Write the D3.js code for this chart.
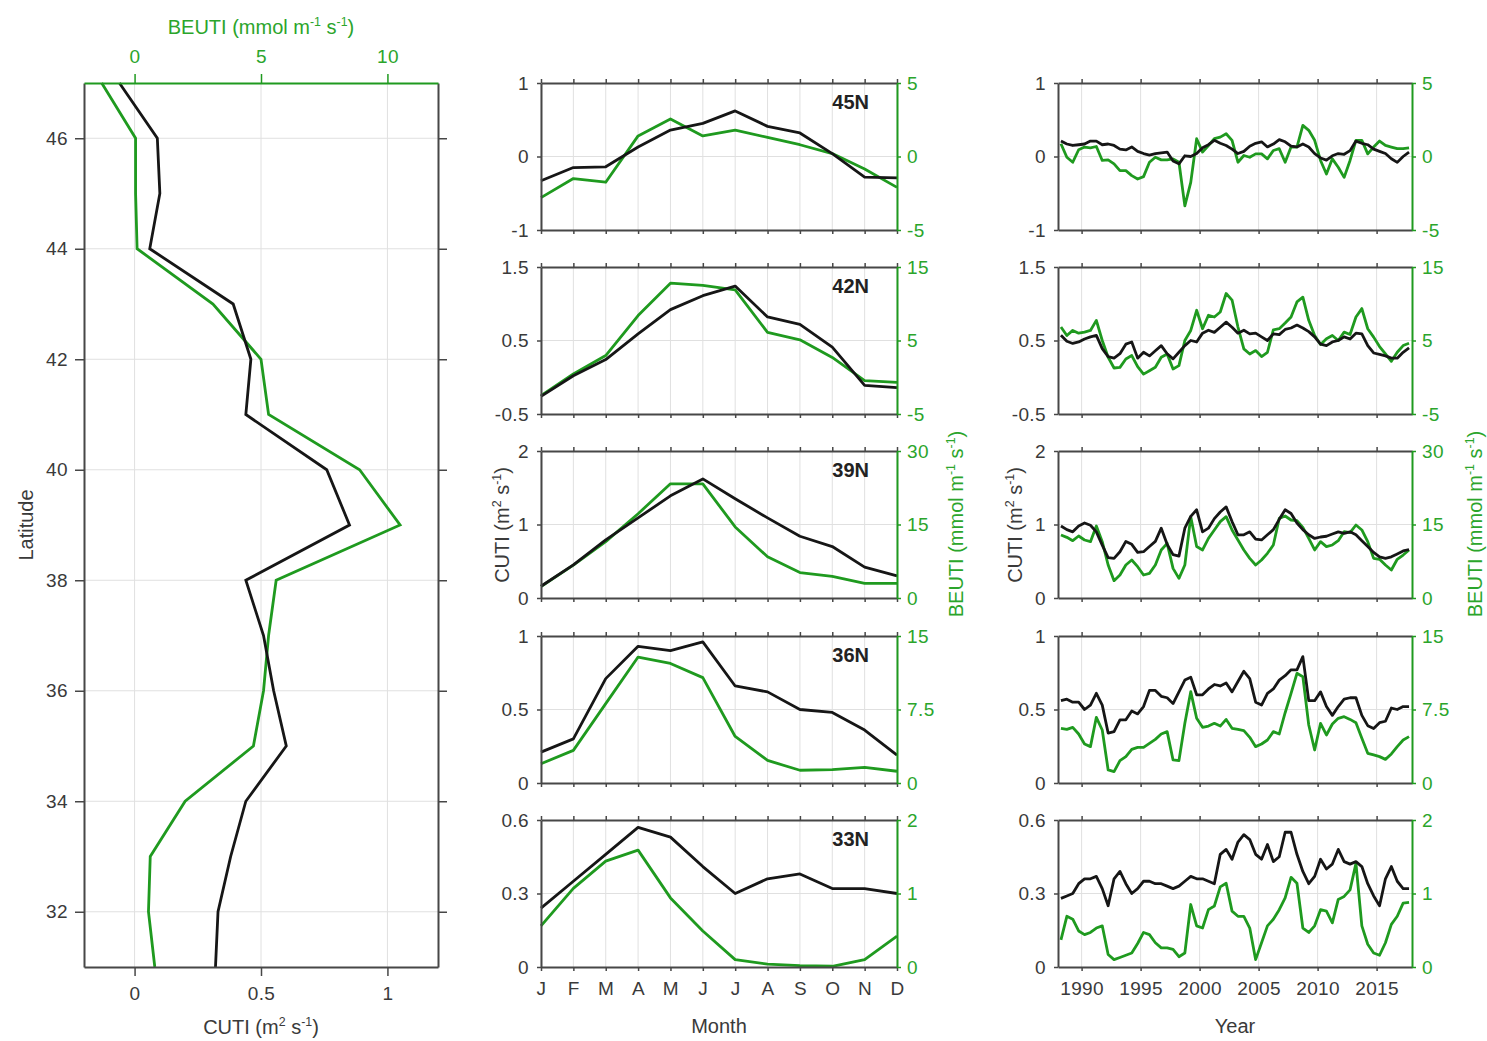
<!DOCTYPE html>
<html>
<head>
<meta charset="utf-8">
<script src="https://cdn.jsdelivr.net/npm/d3@7"></script>
<style>
  body { margin: 0; background: #fff; }
</style>
</head>
<body>
<svg id="chart" width="1487" height="1041"></svg>
<script>
// ---- data ----
const latitudes = [31, 32, 33, 34, 35, 36, 37, 38, 39, 40, 41, 42, 43, 44, 45, 46, 47];
const latCUTI  = [0.32, 0.33, 0.38, 0.44, 0.60, 0.55, 0.51, 0.44, 0.85, 0.76, 0.44, 0.46, 0.39, 0.06, 0.10, 0.09, -0.06];
const latBEUTI = [0.8, 0.55, 0.62, 2.0, 4.7, 5.1, 5.3, 5.6, 10.5, 8.9, 5.3, 5.0, 3.1, 0.1, 0.04, 0.04, -1.3];
const latTicks = [32, 34, 36, 38, 40, 42, 44, 46];
const cutiTicks = [0, 0.5, 1];
const beutiTicks = [0, 5, 10];

const months = ["J", "F", "M", "A", "M", "J", "J", "A", "S", "O", "N", "D"];
const monthNum = [1, 2, 3, 4, 5, 6, 7, 8, 9, 10, 11, 12];

const clim45C = [-0.33, -0.15, -0.14, 0.13, 0.36, 0.45, 0.62, 0.41, 0.32, 0.04, -0.28, -0.29];
const clim45B = [-2.8, -1.5, -1.75, 1.4, 2.55, 1.4, 1.8, 1.3, 0.8, 0.2, -0.85, -2.1];
const clim42C = [-0.26, 0.02, 0.24, 0.59, 0.92, 1.11, 1.24, 0.82, 0.72, 0.41, -0.11, -0.14];
const clim42B = [-2.5, 0.45, 2.95, 8.4, 12.8, 12.5, 11.9, 6.1, 5.1, 2.7, -0.45, -0.7];
const clim39C = [0.16, 0.45, 0.79, 1.09, 1.39, 1.62, 1.35, 1.09, 0.84, 0.70, 0.42, 0.30];
const clim39B = [2.35, 6.7, 11.5, 17.2, 23.3, 23.3, 14.5, 8.4, 5.2, 4.4, 3.0, 3.0];
const clim36C = [0.21, 0.30, 0.71, 0.93, 0.90, 0.96, 0.66, 0.62, 0.50, 0.48, 0.36, 0.19];
const clim36B = [1.97, 3.33, 8.1, 12.85, 12.2, 10.75, 4.75, 2.3, 1.3, 1.36, 1.6, 1.2];
const clim33C = [0.24, 0.35, 0.46, 0.57, 0.53, 0.41, 0.30, 0.36, 0.38, 0.32, 0.32, 0.30];
const clim33B = [0.56, 1.07, 1.44, 1.59, 0.94, 0.49, 0.10, 0.04, 0.02, 0.01, 0.10, 0.42];

const years = [1988.25, 1988.75, 1989.25, 1989.75, 1990.25, 1990.75, 1991.25, 1991.75, 1992.25, 1992.75,
  1993.25, 1993.75, 1994.25, 1994.75, 1995.25, 1995.75, 1996.25, 1996.75, 1997.25, 1997.75,
  1998.25, 1998.75, 1999.25, 1999.75, 2000.25, 2000.75, 2001.25, 2001.75, 2002.25, 2002.75,
  2003.25, 2003.75, 2004.25, 2004.75, 2005.25, 2005.75, 2006.25, 2006.75, 2007.25, 2007.75,
  2008.25, 2008.75, 2009.25, 2009.75, 2010.25, 2010.75, 2011.25, 2011.75, 2012.25, 2012.75,
  2013.25, 2013.75, 2014.25, 2014.75, 2015.25, 2015.75, 2016.25, 2016.75, 2017.25, 2017.75];
const yearTicks = [1990, 1995, 2000, 2005, 2010, 2015];

const ts45C = [0.21,0.17,0.15,0.16,0.17,0.21,0.21,0.16,0.17,0.15,0.10,0.09,0.13,0.07,0.04,0.02,0.04,0.05,0.06,-0.06,
  -0.10,0.01,0.00,0.04,0.12,0.16,0.22,0.18,0.15,0.10,0.04,0.07,0.14,0.18,0.20,0.13,0.17,0.23,0.20,0.14,
  0.13,0.17,0.13,0.04,-0.02,-0.05,0.01,0.04,0.03,0.08,0.21,0.18,0.16,0.10,0.07,0.04,-0.03,-0.08,0.00,0.06];
const ts45B = [0.87,-0.05,-0.39,0.46,0.64,0.59,0.68,-0.27,-0.23,-0.50,-0.96,-0.96,-1.30,-1.53,-1.37,-0.39,-0.05,-0.23,-0.23,-0.16,
  -0.39,-3.36,-1.76,1.21,0.30,0.75,1.21,1.32,1.55,1.10,-0.39,0.07,-0.05,0.18,0.18,-0.16,0.41,0.53,-0.39,0.64,
  0.64,2.12,1.78,1.10,-0.27,-1.19,-0.16,-0.73,-1.42,-0.27,1.10,1.10,0.18,0.64,1.05,0.75,0.64,0.53,0.53,0.59];
const ts42C = [0.57,0.49,0.46,0.48,0.52,0.55,0.57,0.39,0.28,0.26,0.32,0.45,0.48,0.26,0.34,0.29,0.36,0.43,0.32,0.25,
  0.34,0.43,0.50,0.48,0.60,0.64,0.61,0.68,0.75,0.68,0.60,0.64,0.59,0.60,0.55,0.50,0.59,0.58,0.65,0.67,
  0.71,0.67,0.62,0.55,0.45,0.43,0.48,0.50,0.55,0.52,0.60,0.59,0.43,0.33,0.31,0.29,0.26,0.26,0.34,0.40];
const ts42B = [6.83,5.68,6.37,6.0,6.14,6.37,7.74,5.0,2.72,1.26,1.35,2.49,2.95,1.44,0.43,0.89,1.35,2.72,3.17,1.12,
  1.58,5.0,6.37,9.11,6.6,8.43,8.2,8.88,11.4,10.5,6.83,3.86,3.17,3.63,2.81,3.40,6.46,6.6,7.37,8.2,
  10.25,10.9,7.74,5.68,4.45,5.23,5.68,5.0,6.14,5.82,8.2,9.34,6.6,5.46,4.18,3.17,2.17,3.40,4.31,4.63];
const ts39C = [0.98,0.93,0.90,0.98,1.02,0.99,0.90,0.72,0.55,0.54,0.63,0.77,0.73,0.62,0.63,0.70,0.77,0.95,0.73,0.59,
  0.57,0.95,1.11,1.20,0.90,0.95,1.08,1.17,1.24,1.04,0.86,0.86,0.90,0.80,0.79,0.86,0.93,1.07,1.20,1.15,
  1.02,0.93,0.86,0.81,0.83,0.84,0.87,0.90,0.88,0.90,0.86,0.78,0.70,0.62,0.56,0.54,0.56,0.60,0.64,0.66];
const ts39B = [12.86,12.38,11.70,12.65,11.84,11.50,14.69,11.5,6.73,3.54,4.69,6.73,7.76,6.39,4.69,5.03,6.73,9.80,11.16,6.05,
  4.01,6.73,16.6,10.5,9.80,12.18,13.88,15.58,16.6,13.88,11.84,9.80,8.09,6.73,7.76,9.12,10.82,16.26,16.74,15.92,
  15.78,14.42,12.18,9.80,11.50,10.48,10.82,11.70,13.54,13.33,14.90,13.88,11.50,8.09,7.90,6.73,5.71,7.90,8.77,9.80];
const ts36C = [0.56,0.57,0.55,0.55,0.50,0.53,0.61,0.53,0.34,0.35,0.43,0.43,0.49,0.47,0.52,0.63,0.63,0.59,0.58,0.54,
  0.62,0.70,0.72,0.60,0.60,0.64,0.67,0.66,0.68,0.62,0.69,0.76,0.71,0.55,0.53,0.61,0.64,0.70,0.73,0.77,
  0.77,0.86,0.56,0.56,0.62,0.52,0.46,0.52,0.57,0.58,0.58,0.46,0.39,0.37,0.41,0.42,0.51,0.50,0.52,0.52];
const ts36B = [5.58,5.47,5.68,5.00,3.98,3.71,6.70,5.41,1.33,1.16,2.28,2.69,3.43,3.64,3.64,4.05,4.45,5.00,5.24,2.35,
  2.28,6.09,9.32,6.60,5.68,5.81,6.09,5.81,6.49,5.58,5.47,5.34,4.66,3.71,3.98,4.39,5.24,5.00,7.17,9.15,
  11.19,10.85,5.92,3.37,6.09,4.90,6.02,6.60,6.77,6.49,6.15,4.56,3.03,2.86,2.69,2.41,2.96,3.71,4.39,4.73];
const ts33C = [0.28,0.29,0.30,0.34,0.36,0.36,0.37,0.32,0.25,0.36,0.39,0.34,0.30,0.32,0.35,0.35,0.34,0.34,0.33,0.32,
  0.33,0.35,0.37,0.36,0.36,0.35,0.34,0.46,0.48,0.44,0.51,0.54,0.52,0.46,0.44,0.50,0.43,0.45,0.55,0.55,
  0.46,0.39,0.34,0.37,0.44,0.40,0.42,0.48,0.43,0.42,0.43,0.41,0.34,0.29,0.25,0.36,0.41,0.35,0.32,0.32];
const ts33B = [0.37,0.69,0.65,0.49,0.44,0.47,0.53,0.56,0.17,0.10,0.13,0.16,0.19,0.32,0.47,0.44,0.33,0.26,0.26,0.24,
  0.14,0.19,0.85,0.56,0.53,0.78,0.83,1.09,1.14,0.76,0.69,0.69,0.53,0.10,0.33,0.56,0.65,0.78,0.94,1.22,
  1.14,0.53,0.47,0.56,0.78,0.76,0.60,0.92,0.96,1.05,1.41,0.56,0.31,0.19,0.16,0.33,0.58,0.69,0.87,0.88];

const sites = ["45N", "42N", "39N", "36N", "33N"];
const cutiDomains  = [[-1, 1], [-0.5, 1.5], [0, 2], [0, 1], [0, 0.6]];
const cutiRowTicks = [[-1, 0, 1], [-0.5, 0.5, 1.5], [0, 1, 2], [0, 0.5, 1], [0, 0.3, 0.6]];
const beutiDomains  = [[-5, 5], [-5, 15], [0, 30], [0, 15], [0, 2]];
const beutiRowTicks = [[-5, 0, 5], [-5, 5, 15], [0, 15, 30], [0, 7.5, 15], [0, 1, 2]];
const climC = [clim45C, clim42C, clim39C, clim36C, clim33C];
const climB = [clim45B, clim42B, clim39B, clim36B, clim33B];
const tsC = [ts45C, ts42C, ts39C, ts36C, ts33C];
const tsB = [ts45B, ts42B, ts39B, ts36B, ts33B];

// ---- layout / style ----
const FONT = '"Liberation Sans", Arial, Helvetica, sans-serif';
const BLACK = "#161616", GREEN = "#1f9a1f", GTXT = "#2ba52b";
const AXIS = "#474747", GRID = "#e0e0e0", TXT = "#3a3a3a";
const FS = 19, FS_T = 20, LW = 2.8;
const rowTop = [83, 267, 451, 636, 820];
const PH = 147;

const svg = d3.select("#chart");

function styleAxis(g, color, txt) {
  g.attr("font-family", FONT).attr("font-size", FS);
  g.select(".domain").attr("stroke", color).attr("stroke-width", 2);
  g.selectAll(".tick line").attr("stroke", color).attr("stroke-width", 1.5);
  g.selectAll(".tick text").attr("fill", txt).attr("letter-spacing", 0.4);
  return g;
}

function unitLabel(x, y, rot, color, parts) {
  const t = svg.append("text")
    .attr("transform", `translate(${x},${y}) rotate(${rot})`)
    .attr("text-anchor", "middle")
    .attr("font-family", FONT)
    .attr("font-size", FS_T)
    .attr("fill", color);
  let up = false;
  parts.forEach(([s, sup]) => {
    const sp = t.append("tspan").text(s);
    if (sup) sp.attr("font-size", FS_T * 0.62).attr("dy", up ? 0 : -FS_T * 0.42);
    else if (up) sp.attr("dy", FS_T * 0.42);
    up = sup;
  });
}
const cutiUnits = [["CUTI (m", false], ["2", true], [" s", false], ["-1", true], [")", false]];
const beutiUnits = [["BEUTI (mmol m", false], ["-1", true], [" s", false], ["-1", true], [")", false]];

const line = d3.line().curve(d3.curveLinear);

// ---- left panel: latitude profile ----
const xC = d3.scaleLinear().domain([-0.2, 1.2]).range([84, 438]);
const xB = d3.scaleLinear().domain([-2, 12]).range([84, 438]);
const yLat = d3.scaleLinear().domain([31, 47]).range([967, 83]);

const lp = svg.append("g");
lp.selectAll(".vg").data(cutiTicks).join("line")
  .attr("x1", d => xC(d)).attr("x2", d => xC(d)).attr("y1", 83).attr("y2", 967)
  .attr("stroke", GRID);
lp.selectAll(".hg").data(latTicks).join("line")
  .attr("x1", 84).attr("x2", 438).attr("y1", d => yLat(d)).attr("y2", d => yLat(d))
  .attr("stroke", GRID);

lp.append("path")
  .datum(latitudes.map((l, i) => [xB(latBEUTI[i]), yLat(l)]))
  .attr("d", line).attr("fill", "none").attr("stroke", GREEN).attr("stroke-width", LW);
lp.append("path")
  .datum(latitudes.map((l, i) => [xC(latCUTI[i]), yLat(l)]))
  .attr("d", line).attr("fill", "none").attr("stroke", BLACK).attr("stroke-width", LW);

styleAxis(lp.append("g").attr("transform", "translate(84,0)")
  .call(d3.axisLeft(yLat).tickValues(latTicks).tickSize(9).tickSizeOuter(0).tickPadding(7)), AXIS, TXT);
styleAxis(lp.append("g").attr("transform", "translate(438,0)")
  .call(d3.axisRight(yLat).tickValues(latTicks).tickSize(9).tickSizeOuter(0).tickFormat("")), AXIS, TXT);
styleAxis(lp.append("g").attr("transform", "translate(0,967)")
  .call(d3.axisBottom(xC).tickValues(cutiTicks).tickSize(9).tickSizeOuter(0).tickPadding(11).tickFormat(d => String(d))), AXIS, TXT);
styleAxis(lp.append("g").attr("transform", "translate(0,83)")
  .call(d3.axisTop(xB).tickValues(beutiTicks).tickSize(9).tickSizeOuter(0).tickPadding(11).tickFormat(d => String(d))), GREEN, GTXT);

svg.append("text").attr("transform", "translate(33,525) rotate(-90)")
  .attr("text-anchor", "middle").attr("font-family", FONT).attr("font-size", FS_T)
  .attr("fill", TXT).text("Latitude");
unitLabel(261, 1034, 0, TXT, cutiUnits);
unitLabel(261, 34, 0, GTXT, beutiUnits);

// ---- middle and right columns ----
const xM = d3.scaleLinear().domain([1, 12]).range([541, 897]);
const xY = d3.scaleLinear().domain([1988, 2018]).range([1058, 1412]);

function drawPanel(r, xs, xVals, xTicks, xFmt, cVals, bVals, showLabel) {
  const top = rowTop[r], bot = top + PH;
  const [x0, x1] = xs.range();
  const yL = d3.scaleLinear().domain(cutiDomains[r]).range([bot, top]);
  const yR = d3.scaleLinear().domain(beutiDomains[r]).range([bot, top]);
  const g = svg.append("g");

  g.selectAll(".vg").data(xTicks).join("line")
    .attr("x1", d => xs(d)).attr("x2", d => xs(d)).attr("y1", top).attr("y2", bot)
    .attr("stroke", GRID);
  g.append("line")
    .attr("x1", x0).attr("x2", x1)
    .attr("y1", yL(cutiRowTicks[r][1])).attr("y2", yL(cutiRowTicks[r][1]))
    .attr("stroke", GRID);

  g.append("path").datum(xVals.map((x, i) => [xs(x), yR(bVals[i])]))
    .attr("d", line).attr("fill", "none").attr("stroke", GREEN)
    .attr("stroke-width", LW).attr("stroke-linejoin", "round");
  g.append("path").datum(xVals.map((x, i) => [xs(x), yL(cVals[i])]))
    .attr("d", line).attr("fill", "none").attr("stroke", BLACK)
    .attr("stroke-width", LW).attr("stroke-linejoin", "round");

  styleAxis(g.append("g").attr("transform", `translate(0,${top})`)
    .call(d3.axisTop(xs).tickValues(xTicks).tickSize(4).tickSizeOuter(0).tickFormat("")), AXIS, TXT);
  styleAxis(g.append("g").attr("transform", `translate(0,${bot})`)
    .call(d3.axisBottom(xs).tickValues(xTicks).tickSize(4).tickSizeOuter(0).tickPadding(11)
      .tickFormat(r === 4 ? xFmt : "")), AXIS, TXT);
  styleAxis(g.append("g").attr("transform", `translate(${x0},0)`)
    .call(d3.axisLeft(yL).tickValues(cutiRowTicks[r]).tickSize(4).tickSizeOuter(0).tickPadding(8)
      .tickFormat(d => String(d))), AXIS, TXT);
  styleAxis(g.append("g").attr("transform", `translate(${x1},0)`)
    .call(d3.axisRight(yR).tickValues(beutiRowTicks[r]).tickSize(4).tickSizeOuter(0).tickPadding(6)
      .tickFormat(d => String(d))), GREEN, GTXT);

  if (showLabel) {
    g.append("text").attr("x", 869).attr("y", top + 26)
      .attr("text-anchor", "end").attr("font-family", FONT).attr("font-size", 20)
      .attr("font-weight", "bold").attr("fill", "#222").text(sites[r]);
  }
}

sites.forEach((s, r) => {
  drawPanel(r, xM, monthNum, monthNum, (d) => months[d - 1], climC[r], climB[r], true);
  drawPanel(r, xY, years, yearTicks, (d) => String(d), tsC[r], tsB[r], false);
});

svg.append("text").attr("x", 719).attr("y", 1033).attr("text-anchor", "middle")
  .attr("font-family", FONT).attr("font-size", FS_T).attr("fill", TXT).text("Month");
svg.append("text").attr("x", 1235).attr("y", 1033).attr("text-anchor", "middle")
  .attr("font-family", FONT).attr("font-size", FS_T).attr("fill", TXT).text("Year");

unitLabel(509, 525, -90, TXT, cutiUnits);
unitLabel(963, 524, -90, GTXT, beutiUnits);
unitLabel(1022, 525, -90, TXT, cutiUnits);
unitLabel(1482, 524, -90, GTXT, beutiUnits);
</script>
</body>
</html>
